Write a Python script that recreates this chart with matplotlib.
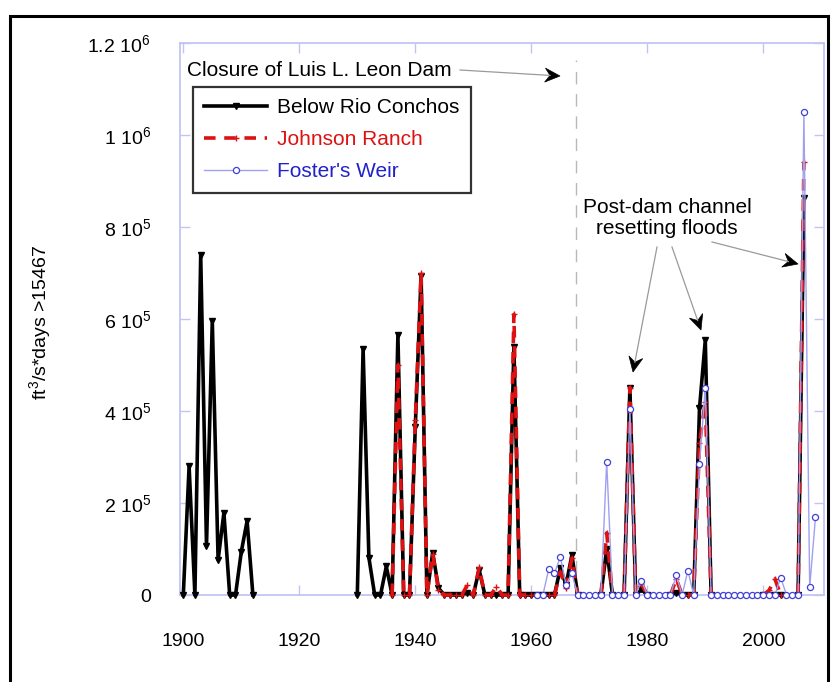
import numpy as np
import matplotlib
matplotlib.use("Agg")
import matplotlib.pyplot as plt
from matplotlib.patches import Rectangle, Polygon
from matplotlib.lines import Line2D

plt.rcParams['font.family'] = ['Liberation Sans', 'DejaVu Sans']
plt.rcParams['mathtext.default'] = 'regular'

# ---------------- data ----------------
conchos_years = (list(range(1900, 1913)) + list(range(1930, 1969)) +
                 [1972, 1973, 1974, 1976, 1977, 1978, 1979, 1980,
                  1984, 1985, 1986, 1987, 1988, 1989, 1990, 1991,
                  2000, 2001, 2002, 2003, 2006, 2007])
conchos_flow = ([0, 280000, 0, 739000, 107000, 596000, 76000, 179000, 0, 0, 94000, 161000, 0] +
                [0, 535000, 81000, 0, 0, 62000, 0, 565000, 0, 0, 366000, 694000, 0, 92000,
                 15000, 0, 0, 0, 0, 5000, 0, 55000, 0, 0, 0, 0, 0, 540000, 0, 0, 0, 0, 0,
                 0, 0, 58000, 22000, 87000, 0] +
                [0, 100000, 0, 0, 451000, 0, 12000, 0,
                 0, 5000, 0, 0, 0, 406000, 554000, 0,
                 0, 0, 0, 0, 0, 862000])

johnson_years = (list(range(1936, 1969)) +
                 [1972, 1973, 1974, 1976, 1977, 1978, 1979, 1980,
                  1984, 1985, 1986, 1987, 1988, 1989, 1990, 1991,
                  2000, 2001, 2002, 2003, 2006, 2007])
johnson_flow = ([0, 500000, 0, 0, 380000, 700000, 0, 90000, 10000, 0, 0, 0, 0, 22000,
                 0, 60000, 0, 0, 18000, 0, 0, 610000, 0, 0, 0, 0, 0, 0, 0, 50000,
                 15000, 80000, 0] +
                [0, 135000, 0, 0, 451000, 0, 24000, 0,
                 0, 35000, 0, 0, 0, 330000, 420000, 0,
                 0, 10000, 35000, 0, 0, 942000])

foster_years = list(range(1961, 2010))
foster_flow = [0, 0, 56000, 47000, 83000, 22000, 47000, 0, 0, 0, 0, 0, 290000, 0, 0, 0,
               404000, 0, 31000, 0, 0, 0, 0, 0, 43000, 0, 53000, 0, 285000, 451000,
               0, 0, 0, 0, 0, 0, 0, 0, 0, 0, 0, 0, 38000, 0, 0, 0, 1049000, 17000, 170000]

dam_year = 1967.7
x_ticks = [1900, 1920, 1940, 1960, 1980, 2000]
y_ticks = [0, 200000, 400000, 600000, 800000, 1000000, 1200000]
y_tick_labels = ['0', '2 10$^{5}$', '4 10$^{5}$', '6 10$^{5}$', '8 10$^{5}$',
                 '1 10$^{6}$', '1.2 10$^{6}$']

all_years = np.arange(1900, 2010)


def full_series(yrs, vals):
    out = np.full(all_years.shape, np.nan)
    for y, v in zip(yrs, vals):
        out[y - 1900] = v
    return out


conchos = full_series(conchos_years, conchos_flow)
johnson = full_series(johnson_years, johnson_flow)
foster = full_series(foster_years, foster_flow)

# ---------------- figure ----------------
W, H = 831, 682
fig = plt.figure(figsize=(W / 100, H / 100), dpi=100)


def fp(x, y):
    return (x / W, 1 - y / H)


ax = fig.add_axes([180 / W, 1 - 595 / H, 644 / W, 552 / H])

spine_col = '#c4c4f4'
RED = '#dd1111'
BLUE_LINE = '#a0a0f0'
BLUE_MK = '#4040d8'

ax.plot(all_years, conchos, color='black', lw=2.6, marker='v', ms=4.5,
        label='Below Rio Conchos', zorder=3, clip_on=False)
ax.plot(all_years, johnson, color=RED, lw=2.6, ls=(0, (3.2, 2.4)), marker='+', ms=5,
        mew=1, label='Johnson Ranch', zorder=4, clip_on=False)
ax.plot(all_years, foster, color=BLUE_LINE, lw=1.0, marker='o', ms=4.4,
        mfc='white', mec=BLUE_MK, mew=0.9, label="Foster's Weir", zorder=5, clip_on=False)

ax.axvline(dam_year, ymin=0, ymax=0.97, color='#b8b8b8', lw=1.0, ls=(0, (9, 7)), zorder=1)

ax.set_xlim(1900 - 3.3 / 5.8, 1900 - 3.3 / 5.8 + 644 / 5.8)
ax.set_ylim(0, 1200000)
ax.set_xticks(x_ticks)
ax.set_yticks(y_ticks)
ax.set_yticklabels(y_tick_labels)
ax.tick_params(axis='both', direction='in', length=7, color=spine_col, width=1,
               top=True, right=True, labelsize=14)
ax.tick_params(axis='y', pad=21)
ax.tick_params(axis='x', pad=27)
for s in ax.spines.values():
    s.set_color(spine_col)
    s.set_linewidth(1.3)

fig.text(40 / W, 1 - 322 / H, 'ft$^{3}$/s*days >15467', rotation=90, fontsize=14,
         ha='center', va='center')

# legend
leg = ax.legend(loc='upper left', bbox_to_anchor=fp(193, 87), bbox_transform=fig.transFigure,
                fontsize=15, frameon=True, fancybox=False, edgecolor='black',
                handlelength=3.0, handletextpad=0.5, borderpad=0.55, labelspacing=0.62,
                numpoints=1, borderaxespad=0)
leg.get_frame().set_linewidth(1.6)
for t, c in zip(leg.get_texts(), ['black', RED, '#2222cc']):
    t.set_color(c)

# annotations
fig.text(187 / W, 1 - 70 / H, 'Closure of Luis L. Leon Dam', fontsize=15, ha='left', va='center')
fig.text(667 / W, 1 - 218 / H, 'Post-dam channel\nresetting floods', fontsize=15,
         ha='center', va='center', linespacing=1.1)


def arrow(x0, y0, x1, y1, head_len=15, head_w=7, notch=5):
    d = np.array([x1 - x0, y1 - y0], float)
    d /= np.hypot(*d)
    n = np.array([-d[1], d[0]])
    tip = np.array([x1, y1], float)
    back = tip - d * head_len
    nb = tip - d * (head_len - notch)
    fig.add_artist(Line2D([x0 / W, nb[0] / W], [1 - y0 / H, 1 - nb[1] / H],
                          color='#9a9a9a', lw=0.9, transform=fig.transFigure))
    pts = [tip, back + n * head_w, nb, back - n * head_w]
    fig.add_artist(Polygon([(p[0] / W, 1 - p[1] / H) for p in pts], closed=True,
                           facecolor='black', edgecolor='black', lw=0.5,
                           transform=fig.transFigure))


arrow(460, 70, 560, 76)
arrow(657, 247, 633, 372)
arrow(672, 247, 701, 330)
arrow(712, 242, 798, 264)

# outer frame
fig.add_artist(Rectangle((10 / W, -0.1), 818 / W, 1.1 - 16 / H, transform=fig.transFigure,
                         fill=False, edgecolor='black', lw=2.2))

fig.savefig('out.png', dpi=100)
